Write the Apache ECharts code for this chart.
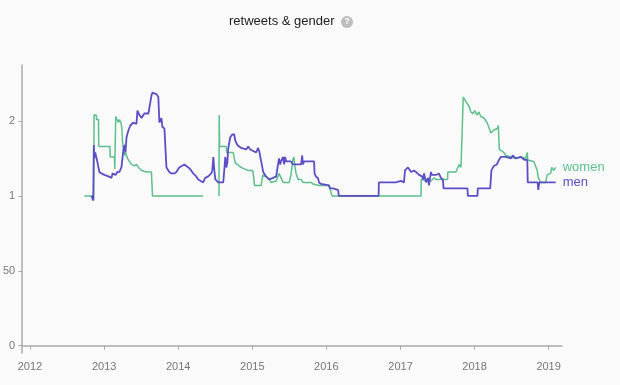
<!DOCTYPE html>
<html>
<head>
<meta charset="utf-8">
<script src="https://cdn.jsdelivr.net/npm/echarts@6/dist/echarts.min.js"></script>
<style>
html,body{margin:0;padding:0;background:#fafafa;}
#chart{width:620px;height:385px;}
</style>
</head>
<body>
<div id="chart"></div>
<script>
var title = "retweets & gender";
var yearTicks = ["2012-01-01","2013-01-01","2014-01-01","2015-01-01","2016-01-01","2017-01-01","2018-01-01","2019-01-01"];
var yTickValues = [0, 0.5, 1, 1.5];
var yTickLabels = ["0", "50", "1", "2"];

var women = [
["2012-09-25",1.00],["2012-11-08",1.00],["2012-11-10",0.97],["2012-11-12",1.54],["2012-11-23",1.54],["2012-11-24",1.51],["2012-12-04",1.51],["2012-12-05",1.33],["2013-01-29",1.33],["2013-01-31",1.26],["2013-02-21",1.26],["2013-02-22",1.18],["2013-02-26",1.18],["2013-02-27",1.53],["2013-03-07",1.52],["2013-03-12",1.49],["2013-03-17",1.51],["2013-03-25",1.49],["2013-03-30",1.44],["2013-04-01",1.37],["2013-04-06",1.31],["2013-04-11",1.27],["2013-04-16",1.29],["2013-04-26",1.25],["2013-05-05",1.23],["2013-05-15",1.21],["2013-05-30",1.20],["2013-06-09",1.21],["2013-06-19",1.19],["2013-07-04",1.17],["2013-07-28",1.16],["2013-08-22",1.16],["2013-08-27",1.00],["2014-05-04",1.00],
["2014-06-10","-"],
["2014-07-21",1.00],["2014-07-22",1.54],["2014-07-24",1.33],["2014-08-26",1.33],["2014-08-28",1.29],["2014-09-29",1.29],["2014-10-09",1.22],["2014-11-07",1.19],["2014-12-10",1.17],["2015-01-04",1.17],["2015-01-12",1.07],["2015-02-14",1.07],["2015-02-22",1.14],["2015-03-19",1.12],["2015-04-04",1.09],["2015-04-29",1.10],["2015-05-13",1.15],["2015-05-18",1.14],["2015-06-02",1.09],["2015-07-02",1.09],["2015-07-11",1.14],["2015-07-20",1.24],["2015-07-25",1.26],["2015-07-31",1.19],["2015-08-05",1.15],["2015-08-15",1.11],["2015-08-30",1.11],["2015-09-08",1.09],["2015-10-18",1.09],["2015-10-28",1.08],["2015-11-26",1.07],["2016-01-14",1.07],["2016-01-19",1.05],["2016-01-29",1.00],["2017-04-12",1.00],["2017-04-13",1.11],["2017-05-31",1.10],["2017-06-15",1.12],["2017-06-25",1.11],["2017-08-21",1.11],["2017-08-22",1.16],["2017-10-01",1.16],["2017-10-17",1.21],["2017-10-26",1.19],["2017-11-02",1.20],["2017-11-06",1.66],["2017-11-14",1.65],["2017-11-24",1.62],["2017-12-04",1.60],["2017-12-14",1.56],["2017-12-24",1.55],["2018-01-02",1.57],["2018-01-12",1.54],["2018-01-22",1.56],["2018-02-01",1.53],["2018-02-16",1.52],["2018-03-03",1.49],["2018-03-12",1.46],["2018-03-22",1.42],["2018-03-30",1.41],["2018-04-06",1.44],["2018-04-23",1.45],["2018-04-28",1.47],["2018-05-03",1.31],["2018-05-10",1.30],["2018-05-25",1.29],["2018-06-04",1.27],["2018-06-29",1.26],["2018-07-23",1.25],["2018-08-17",1.26],["2018-09-10",1.25],["2018-09-18",1.29],["2018-09-20",1.24],["2018-10-20",1.23],["2018-11-06",1.17],["2018-11-11",1.12],["2018-11-23",1.09],["2018-12-18",1.09],["2018-12-25",1.14],["2019-01-01",1.13],["2019-01-11",1.15],["2019-01-16",1.19],["2019-01-26",1.17],["2019-02-05",1.19]
];

var men = [
["2012-10-30",1.00],["2012-11-06",0.99],["2012-11-08",0.97],["2012-11-11",1.34],["2012-11-13",1.25],["2012-11-18",1.29],["2012-11-28",1.23],["2012-12-08",1.16],["2012-12-18",1.15],["2013-01-02",1.14],["2013-01-22",1.13],["2013-02-06",1.12],["2013-02-11",1.15],["2013-02-26",1.14],["2013-03-07",1.16],["2013-03-17",1.16],["2013-03-27",1.19],["2013-04-01",1.25],["2013-04-06",1.31],["2013-04-11",1.34],["2013-04-16",1.29],["2013-04-21",1.39],["2013-05-01",1.44],["2013-05-10",1.47],["2013-05-25",1.49],["2013-06-09",1.48],["2013-06-14",1.57],["2013-06-24",1.54],["2013-07-04",1.52],["2013-07-18",1.55],["2013-08-07",1.55],["2013-08-12",1.59],["2013-08-22",1.67],["2013-08-27",1.69],["2013-09-15",1.68],["2013-09-25",1.66],["2013-09-30",1.49],["2013-10-10",1.52],["2013-10-15",1.46],["2013-10-25",1.45],["2013-11-04",1.19],["2013-11-18",1.16],["2013-11-28",1.15],["2013-12-13",1.15],["2013-12-23",1.16],["2014-01-06",1.19],["2014-01-31",1.21],["2014-02-20",1.19],["2014-03-06",1.17],["2014-03-16",1.15],["2014-03-31",1.13],["2014-04-10",1.11],["2014-05-04",1.09],["2014-05-14",1.12],["2014-05-29",1.13],["2014-06-13",1.15],["2014-06-18",1.17],["2014-06-23",1.26],["2014-06-28",1.17],["2014-07-03",1.11],["2014-07-17",1.09],["2014-08-11",1.09],["2014-08-16",1.17],["2014-08-21",1.26],["2014-08-26",1.19],["2014-08-31",1.22],["2014-09-04",1.31],["2014-09-14",1.39],["2014-09-24",1.41],["2014-10-04",1.41],["2014-10-09",1.37],["2014-10-19",1.34],["2014-11-07",1.32],["2014-12-02",1.31],["2014-12-12",1.33],["2014-12-22",1.31],["2015-01-20",1.29],["2015-01-30",1.32],["2015-02-04",1.30],["2015-02-14",1.23],["2015-02-24",1.16],["2015-03-10",1.13],["2015-03-25",1.11],["2015-04-14",1.12],["2015-04-29",1.13],["2015-05-08",1.21],["2015-05-13",1.25],["2015-05-18",1.21],["2015-05-23",1.23],["2015-06-02",1.26],["2015-06-07",1.21],["2015-06-12",1.26],["2015-06-17",1.23],["2015-07-11",1.23],["2015-07-21",1.21],["2015-08-05",1.21],["2015-08-15",1.21],["2015-08-30",1.21],["2015-09-04",1.27],["2015-09-08",1.21],["2015-09-13",1.23],["2015-10-03",1.23],["2015-10-08",1.24],["2015-11-02",1.23],["2015-11-04",1.15],["2015-11-11",1.13],["2015-11-21",1.12],["2015-11-26",1.09],["2015-12-06",1.08],["2016-01-14",1.07],["2016-01-19",1.05],["2016-02-03",1.05],["2016-02-28",1.04],["2016-03-03",1.00],["2016-09-15",1.00],["2016-09-16",1.09],["2016-10-21",1.09],["2016-12-09",1.09],["2017-01-03",1.10],["2017-01-18",1.09],["2017-01-23",1.17],["2017-02-07",1.19],["2017-02-22",1.16],["2017-03-08",1.17],["2017-03-18",1.16],["2017-04-02",1.14],["2017-04-17",1.13],["2017-04-22",1.11],["2017-04-27",1.15],["2017-05-06",1.09],["2017-05-16",1.12],["2017-05-21",1.07],["2017-05-31",1.16],["2017-06-05",1.14],["2017-06-25",1.14],["2017-06-30",1.13],["2017-07-09",1.15],["2017-07-19",1.12],["2017-07-29",1.11],["2017-08-01",1.05],["2017-11-27",1.05],["2017-11-29",1.00],["2018-01-15",1.00],["2018-01-17",1.05],["2018-03-19",1.05],["2018-03-25",1.17],["2018-04-06",1.20],["2018-04-21",1.21],["2018-05-01",1.24],["2018-05-10",1.26],["2018-06-04",1.26],["2018-06-29",1.25],["2018-07-08",1.27],["2018-07-23",1.25],["2018-08-17",1.26],["2018-09-05",1.24],["2018-09-18",1.24],["2018-09-20",1.09],["2018-10-20",1.09],["2018-11-08",1.09],["2018-11-11",1.04],["2018-11-16",1.09],["2018-12-18",1.09],["2019-01-11",1.09],["2019-02-05",1.09]
];

var colors = { women: "#5dbf8c", men: "#5b4ec6" };

function ts(d) { return Date.parse(d + 'T00:00:00Z'); }
function toXY(arr) { return arr.map(function (p) { return [ts(p[0]), p[1]]; }); }
var yearTickTs = yearTicks.map(ts);

var chart = echarts.init(document.getElementById('chart'), null, { renderer: 'canvas' });
var font = "'Liberation Sans', Arial, sans-serif";

function lineSeries(name, data, color, width) {
  return {
    name: name,
    type: 'line',
    data: toXY(data),
    showSymbol: false,
    symbol: 'none',
    connectNulls: false,
    lineStyle: { color: color, width: width },
    itemStyle: { color: color },
    endLabel: {
      show: true,
      formatter: '{a}',
      color: color,
      fontSize: 13,
      fontFamily: font,
      distance: 7
    }
  };
}

chart.setOption({
  animation: false,
  backgroundColor: '#fafafa',
  textStyle: { fontFamily: font },
  grid: { left: 21, right: 58, top: 65, bottom: 32, containLabel: false },
  xAxis: {
    type: 'value',
    min: ts('2011-11-24'),
    max: ts('2019-03-08'),
    axisLine: { show: true, lineStyle: { color: '#aaaaaa', width: 1.5 } },
    axisTick: { show: true, length: 4, lineStyle: { color: '#aaaaaa' }, customValues: yearTickTs },
    axisLabel: {
      color: '#777', fontSize: 11, margin: 8,
      customValues: yearTickTs,
      formatter: function (v) { return String(new Date(v).getUTCFullYear()); }
    },
    splitLine: { show: false }
  },
  yAxis: {
    type: 'value',
    min: -0.049,
    max: 1.874,
    axisLine: { show: true, lineStyle: { color: '#aaaaaa', width: 1.5 } },
    axisTick: { show: true, length: 4, lineStyle: { color: '#aaaaaa' }, customValues: yTickValues },
    axisLabel: {
      color: '#777', fontSize: 11, margin: 7,
      customValues: yTickValues,
      formatter: function (v) {
        for (var i = 0; i < yTickValues.length; i++) {
          if (Math.abs(yTickValues[i] - v) < 1e-6) return yTickLabels[i];
        }
        return '';
      }
    },
    splitLine: { show: false }
  },
  graphic: [
    { type: 'text', left: 229, top: 15, style: { text: title, fontSize: 13, fontFamily: font, fill: '#222' } },
    { type: 'circle', shape: { cx: 347, cy: 22, r: 6 }, style: { fill: '#bdbdbd' } },
    { type: 'text', x: 347, y: 22, style: { text: '?', fontSize: 9, fontWeight: 'bold', fontFamily: font, fill: '#fff', align: 'center', verticalAlign: 'middle' } }
  ],
  series: [
    lineSeries('women', women, colors.women, 1.5),
    lineSeries('men', men, colors.men, 1.8)
  ]
});
</script>
</body>
</html>
